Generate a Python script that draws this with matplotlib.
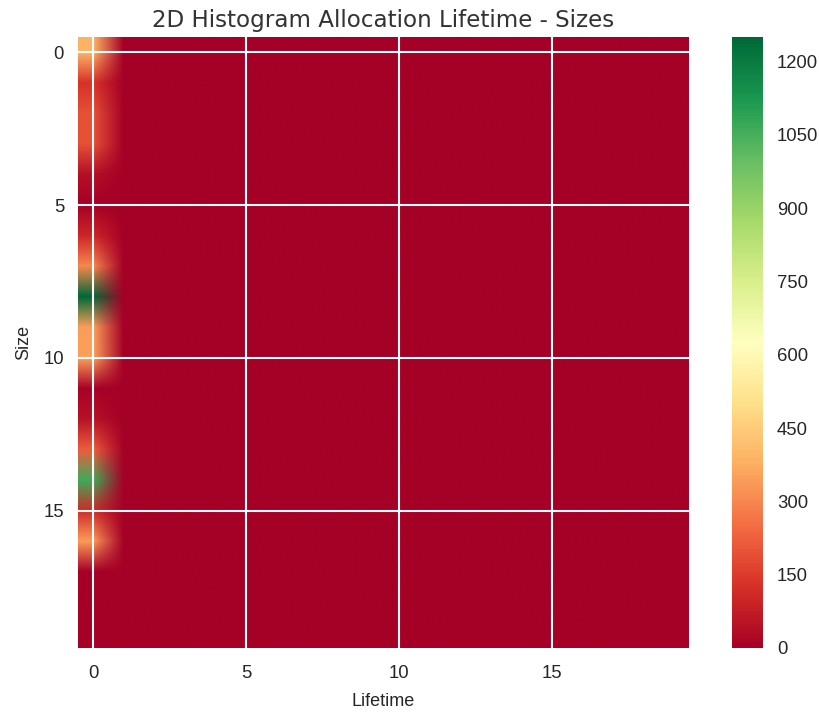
import numpy as np
import matplotlib
matplotlib.use("Agg")
import matplotlib.pyplot as plt

# counts per size bucket (rows) for the lifetime bucket 0; all other lifetimes are empty
sizes = list(range(20))
lifetimes = list(range(20))
lifetime0_counts = [390, 130, 195, 195, 40, 0, 100, 300, 1250, 345,
                    350, 5, 45, 215, 1060, 110, 340, 0, 0, 0]
cbar_ticks = [0, 150, 300, 450, 600, 750, 900, 1050, 1200]
axis_ticks = [0, 5, 10, 15]

hist = np.zeros((len(sizes), len(lifetimes)))
hist[:, 0] = lifetime0_counts

plt.rcParams["font.family"] = "sans-serif"
plt.rcParams["font.sans-serif"] = ["Liberation Sans", "DejaVu Sans"]
text_col = "#262626"

fig = plt.figure(figsize=(8.2, 7.12), dpi=100)
ax = fig.add_axes([77 / 820, 64 / 712, 613 / 820, 611 / 712])
cax = fig.add_axes([732 / 820, 64 / 712, 31 / 820, 611 / 712])

im = ax.imshow(hist, cmap="RdYlGn", interpolation="bilinear",
               interpolation_stage="rgba", vmin=0, vmax=1250)
ax.set_xticks(axis_ticks)
ax.set_yticks(axis_ticks)
ax.grid(True, color="white", linewidth=1.5)
for s in ax.spines.values():
    s.set_visible(False)
ax.tick_params(length=0, pad=10, labelsize=13.3, labelcolor=text_col)
ax.tick_params(axis="x", pad=12)
ax.set_xlabel("Lifetime", fontsize=13, color=text_col, labelpad=8)
ax.set_ylabel("Size", fontsize=13, color=text_col, labelpad=8)
ax.set_title("2D Histogram Allocation Lifetime - Sizes", family="DejaVu Sans",
             fontsize=16.6, color="#333333", pad=7)

cbar = fig.colorbar(im, cax=cax, ticks=cbar_ticks)
cbar.outline.set_visible(False)
cax.tick_params(length=0, pad=10, labelsize=13.3, labelcolor=text_col)

fig.savefig("out.png", dpi=100)
